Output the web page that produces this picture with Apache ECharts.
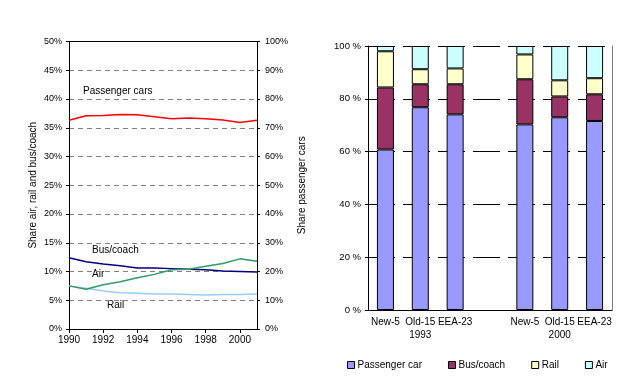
<!DOCTYPE html>
<html>
<head>
<meta charset="utf-8">
<script src="https://cdn.jsdelivr.net/npm/echarts@6/dist/echarts.min.js"></script>
<style>
html,body{margin:0;padding:0;background:#fff;}
#c{width:631px;height:386px;}
</style>
</head>
<body>
<div id="c"></div>
<script>
// ---- Left chart data (shares, %) ----
var years = [1990, 1991, 1992, 1993, 1994, 1995, 1996, 1997, 1998, 1999, 2000, 2001];
var passengerCars = [72.6, 74.2, 74.3, 74.6, 74.5, 73.8, 73.1, 73.4, 73.1, 72.7, 71.8, 72.6];
var busCoach = [12.4, 11.7, 11.3, 11.0, 10.6, 10.6, 10.5, 10.4, 10.3, 10.1, 10.0, 9.9];
var air = [7.5, 6.9, 7.7, 8.2, 8.9, 9.5, 10.3, 10.4, 10.9, 11.4, 12.2, 11.8];
var rail = [7.5, 7.1, 6.6, 6.3, 6.2, 6.1, 6.1, 6.0, 5.9, 6.0, 6.0, 6.1];

// ---- Right chart data (stacked shares, %) ----
var groups = ['New-5', 'Old-15\n1993', 'EEA-23', '', 'New-5', 'Old-15\n2000', 'EEA-23'];
var carShare = [60.8, 76.8, 74.1, '-', 70.3, 73.0, 71.6];
var busShare = [23.5, 8.7, 11.4, '-', 17.1, 7.9, 10.1];
var railShare = [13.7, 5.7, 6.0, '-', 9.4, 6.1, 6.1];
var airShare = [2.0, 8.8, 8.5, '-', 3.2, 13.0, 12.2];

var leftTicks = [0, 50, 5];
var rightTicks = [0, 100, 10];

function pairs(v) { return years.map(function (y, i) { return [y, v[i]]; }); }

var FONT = 'Liberation Sans, Arial, sans-serif';
var txt = { color: '#000', fontFamily: FONT, fontSize: 10 };
var txt9 = { color: '#000', fontFamily: FONT, fontSize: 9 };
var txt95 = { color: '#000', fontFamily: FONT, fontSize: 9.5 };

var chart = echarts.init(document.getElementById('c'), null, { renderer: 'canvas' });

var option = {
  backgroundColor: '#fff',
  animation: false,
  textStyle: { fontFamily: FONT },
  grid: [
    { left: 69, top: 41.5, width: 188, height: 287.5 },
    { left: 368, top: 46, width: 244, height: 264 }
  ],
  xAxis: [
    {
      gridIndex: 0, type: 'value', min: 1990, max: 2001, interval: 2,
      axisLine: { lineStyle: { color: '#000', width: 1 } },
      axisTick: { length: 4, lineStyle: { color: '#000' } },
      axisLabel: Object.assign({ margin: 6, showMaxLabel: false, formatter: function (v) { return v % 2 === 0 ? String(v) : ''; } }, txt),
      splitLine: { show: false }
    },
    {
      gridIndex: 1, type: 'category', data: groups, boundaryGap: true,
      axisLine: { lineStyle: { color: '#000', width: 1 } },
      axisTick: { length: 4, interval: 0, lineStyle: { color: '#000' } },
      axisLabel: Object.assign({ margin: 6, interval: 0, lineHeight: 13 }, txt),
      splitLine: { show: false }
    },
    {
      gridIndex: 0, type: 'value', position: 'top', min: 1990, max: 2001,
      axisLine: { show: true, onZero: false, lineStyle: { color: '#000', width: 1 } },
      axisTick: { show: false }, axisLabel: { show: false }, splitLine: { show: false }
    }
  ],
  yAxis: [
    {
      gridIndex: 0, type: 'value', min: leftTicks[0], max: leftTicks[1], interval: leftTicks[2],
      name: 'Share air, rail and bus/coach', nameLocation: 'middle', nameRotate: 90, nameGap: 31,
      nameTextStyle: txt,
      axisLine: { show: true, lineStyle: { color: '#000' } },
      axisTick: { show: true, length: 3, lineStyle: { color: '#000' } },
      axisLabel: Object.assign({ margin: 7, formatter: '{value}%' }, txt9),
      splitLine: { show: true, lineStyle: { color: '#808080', type: [5, 4], width: 1 } }
    },
    {
      gridIndex: 0, type: 'value', position: 'right', min: rightTicks[0], max: rightTicks[1], interval: rightTicks[2],
      name: 'Share passenger cars', nameLocation: 'middle', nameRotate: 90, nameGap: 40,
      nameTextStyle: txt,
      axisLine: { show: true, lineStyle: { color: '#000' } },
      axisTick: { show: true, length: 3, lineStyle: { color: '#000' } },
      axisLabel: Object.assign({ margin: 8, formatter: '{value}%' }, txt9),
      splitLine: { show: false }
    },
    {
      gridIndex: 1, type: 'value', min: 0, max: 100, interval: 20,
      axisLine: { show: true, lineStyle: { color: '#000' } },
      axisTick: { show: true, length: 3, lineStyle: { color: '#000' } },
      axisLabel: Object.assign({ margin: 7, formatter: '{value} %' }, txt95),
      splitLine: { show: true, lineStyle: { color: '#000', type: [27, 8], width: 1 } }
    },
    {
      gridIndex: 1, type: 'value', position: 'right', min: 0, max: 100, interval: 20,
      axisLine: { show: true, lineStyle: { color: '#808080' } },
      axisTick: { show: false }, axisLabel: { show: false }, splitLine: { show: false }
    }
  ],
  legend: {
    left: 342, top: 355, itemWidth: 7, itemHeight: 7, itemGap: 26, icon: 'rect',
    textStyle: Object.assign({ padding: [0, 0, 0, -2] }, txt),
    itemStyle: { borderColor: '#000', borderWidth: 1 },
    data: ['Passenger car', 'Bus/coach', 'Rail', 'Air']
  },
  graphic: [
    { type: 'text', left: 83, top: 86, style: { text: 'Passenger cars', font: '10px ' + FONT, fill: '#000' } },
    { type: 'text', left: 92, top: 245, style: { text: 'Bus/coach', font: '10px ' + FONT, fill: '#000' } },
    { type: 'text', left: 92, top: 269, style: { text: 'Air', font: '10px ' + FONT, fill: '#000' } },
    { type: 'text', left: 107, top: 300, style: { text: 'Rail', font: '10px ' + FONT, fill: '#000' } }
  ],
  series: [
    { name: 'Passenger cars', type: 'line', xAxisIndex: 0, yAxisIndex: 1, data: pairs(passengerCars), symbol: 'none', lineStyle: { color: '#ff0000', width: 1.5 }, itemStyle: { color: '#ff0000' } },
    { name: 'Bus/coach line', type: 'line', xAxisIndex: 0, yAxisIndex: 0, data: pairs(busCoach), symbol: 'none', lineStyle: { color: '#000080', width: 1.5 }, itemStyle: { color: '#000080' } },
    { name: 'Rail line', type: 'line', xAxisIndex: 0, yAxisIndex: 0, data: pairs(rail), symbol: 'none', lineStyle: { color: '#99ccff', width: 1.5 }, itemStyle: { color: '#99ccff' } },
    { name: 'Air line', type: 'line', xAxisIndex: 0, yAxisIndex: 0, data: pairs(air), symbol: 'none', lineStyle: { color: '#339966', width: 1.5 }, itemStyle: { color: '#339966' } },

    { name: 'Passenger car', type: 'bar', stack: 's', xAxisIndex: 1, yAxisIndex: 2, barWidth: 17, data: carShare, itemStyle: { color: '#9999ff', borderColor: '#000', borderWidth: 1 } },
    { name: 'Bus/coach', type: 'bar', stack: 's', xAxisIndex: 1, yAxisIndex: 2, barWidth: 17, data: busShare, itemStyle: { color: '#993366', borderColor: '#000', borderWidth: 1 } },
    { name: 'Rail', type: 'bar', stack: 's', xAxisIndex: 1, yAxisIndex: 2, barWidth: 17, data: railShare, itemStyle: { color: '#ffffcc', borderColor: '#000', borderWidth: 1 } },
    { name: 'Air', type: 'bar', stack: 's', xAxisIndex: 1, yAxisIndex: 2, barWidth: 17, data: airShare, itemStyle: { color: '#ccffff', borderColor: '#000', borderWidth: 1 } }
  ]
};
chart.setOption(option);
</script>
</body>
</html>
